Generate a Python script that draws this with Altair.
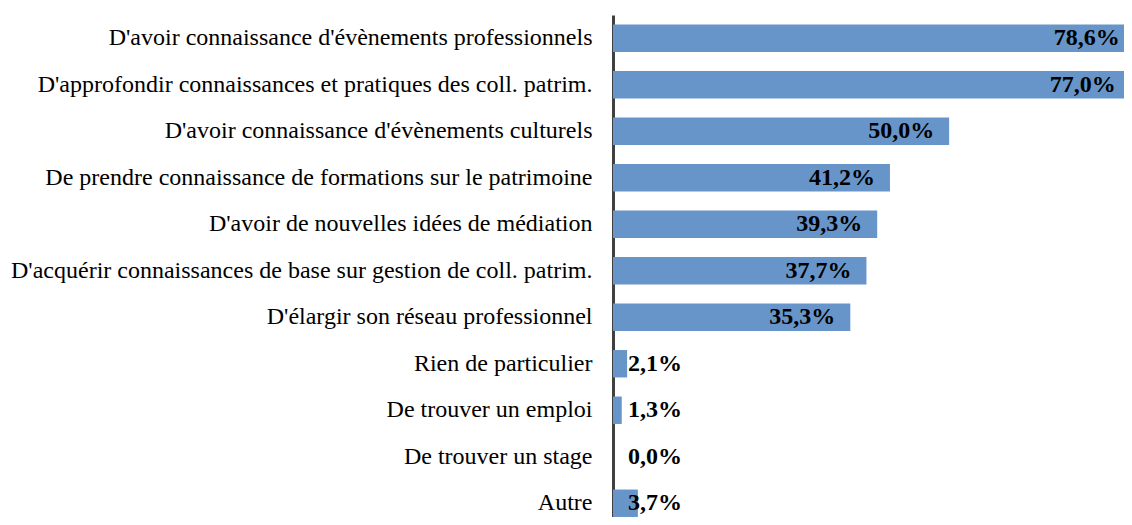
import altair as alt
import pandas as pd

categories = [
    "D'avoir connaissance d'évènements professionnels",
    "D'approfondir connaissances et pratiques des coll. patrim.",
    "D'avoir connaissance d'évènements culturels",
    "De prendre connaissance de formations sur le patrimoine",
    "D'avoir de nouvelles idées de médiation",
    "D'acquérir connaissances de base sur gestion de coll. patrim.",
    "D'élargir son réseau professionnel",
    "Rien de particulier",
    "De trouver un emploi",
    "De trouver un stage",
    "Autre",
]
values = [78.6, 77.0, 50.0, 41.2, 39.3, 37.7, 35.3, 2.1, 1.3, 0.0, 3.7]

df = pd.DataFrame({"cat": categories, "val": values})

FONT = "Liberation Serif, Times New Roman, serif"
BAR = "#6795c9"

y = alt.Y("cat:N", sort=categories, title=None,
          scale=alt.Scale(range=[0, 511.5], paddingInner=0.41, paddingOuter=0.205),
          axis=alt.Axis(ticks=False, labelPadding=21, labelFont=FONT, labelFontSize=24,
                        labelColor="black", domainColor="#404040", domainWidth=3,
                        labelLimit=800))
xscale = alt.Scale(domain=[0, 77.2], nice=False, zero=True)
x = alt.X("val:Q", title=None, scale=xscale, axis=None)

base = alt.Chart(df).transform_calculate(
    lab="replace(format(datum.val, '.1f'), '.', ',') + '%'",
    lx="min(datum.val, 77.6)",
)

bars = base.mark_bar(color=BAR, clip=True).encode(x=x, y=y)

big = base.transform_filter("datum.val >= 10").mark_text(
    align="right", baseline="middle", dx=-15, font=FONT, fontSize=24,
    fontWeight="bold", color="black"
).encode(x=alt.X("lx:Q", scale=xscale, axis=None, title=None), y=y, text="lab:N")

small = base.transform_filter("datum.val < 10").mark_text(
    align="left", baseline="middle", dx=15, font=FONT, fontSize=24,
    fontWeight="bold", color="black"
).encode(x=alt.datum(0), y=y, text="lab:N")

chart = alt.layer(bars, big, small).properties(
    width=519, height=502,
    autosize=alt.AutoSizeParams(type="none"),
    padding={"left": 605, "top": 7, "right": -8, "bottom": 0},
).configure_view(stroke=None).configure_axis(labelFont=FONT)

chart.save("out.html", embed_options={"renderer": "svg", "actions": False})
